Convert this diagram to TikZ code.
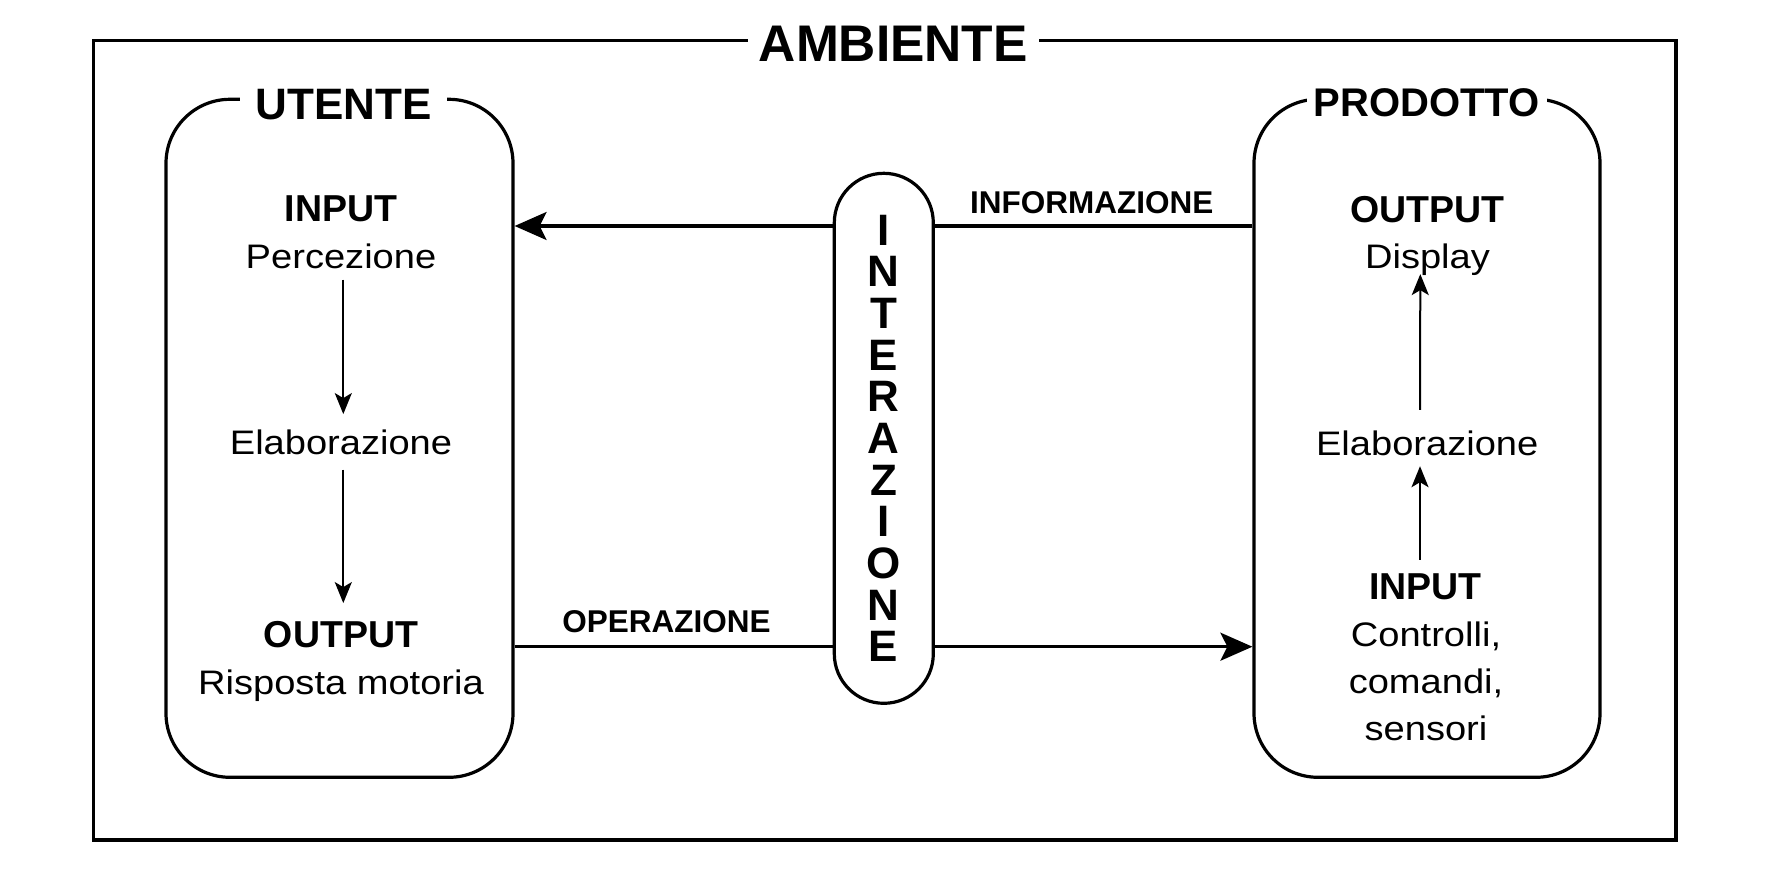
\documentclass[tikz,border=0pt]{standalone}
\usepackage{fontspec}
\setmainfont{Liberation Sans}
\usepackage{graphicx}
\usetikzlibrary{arrows.meta}
\newcommand{\stx}[1]{\scalebox{1.12}[1]{#1}}
\begin{document}
\begin{tikzpicture}[x=1pt,y=-1pt,
  mainline/.style={line width=3.2pt},
  frame/.style={draw, line width=3.2pt, inner sep=0pt},
  box/.style={draw, line width=3.2pt, rounded corners=64pt, minimum width=347pt, minimum height=678pt, inner sep=0pt},
  boxlabel/.style={fill=white, inner sep=0pt, anchor=base},
  reg/.style={font=\fontsize{34}{46.7}\selectfont, inner sep=0pt, text height=25pt, text depth=7pt, anchor=base},
  regm/.style={font=\fontsize{34}{46.7}\selectfont, inner sep=0pt, align=center, anchor=north},
  bld/.style={font=\fontsize{37.5}{45}\selectfont\bfseries, inner sep=0pt, text height=27pt, text depth=7pt, anchor=base},
  lbl/.style={font=\fontsize{31.5}{38}\selectfont\bfseries, inner sep=0pt, anchor=base},
  letter/.style={font=\fontsize{44}{50}\selectfont\bfseries, inner sep=0pt, anchor=base},
  bigarrow/.style={line width=3.2pt, -{Stealth[length=32pt, width=28pt, inset=7pt]}},
  smallarrow/.style={line width=2pt, -{Stealth[length=21pt, width=17pt, inset=5pt]}}
]
\useasboundingbox (0,0) rectangle (1772,881);

% outer frame
\node[frame, minimum width=1582.7pt, minimum height=799.3pt] (amb) at (884.65,440.35) {};
\node[boxlabel, minimum width=291.6pt, font=\fontsize{51.5}{60}\selectfont\bfseries] (ambt) at (893.3,61.7) {AMBIENTE};

% boxes
\node[box] (utente) at (339.5,438.3) {};
\node[boxlabel, minimum width=207pt, font=\fontsize{44}{52}\selectfont\bfseries] (utt) at (343.5,119) {UTENTE};
\node[box, minimum width=346pt] (prod) at (1427,438.3) {};
\node[boxlabel, minimum width=240pt, font=\fontsize{40}{48}\selectfont\bfseries] (prt) at (1426.5,116.7) {PRODOTTO};

% interazione pill
\node[draw, line width=3.2pt, rounded corners=49.5pt, minimum width=99pt, minimum height=530pt, inner sep=0pt] (pill) at (883.8,438.3) {};
\foreach \ch [count=\i from 0] in {I,N,T,E,R,A,Z,I,O,N,E}
  \node[letter] (L\i) at (883.5,245+41.67*\i) {\ch};

% left column
\node[bld] (uin) at (341,221.7) {INPUT};
\node[reg] (uperc) at (341,268.3) {\stx{Percezione}};
\node[reg] (uelab) at (341,454) {\stx{Elaborazione}};
\node[bld] (uout) at (341,647.3) {OUTPUT};
\node[reg] (uris) at (341,694) {\stx{Risposta motoria}};
\draw[smallarrow, shorten <=4pt, shorten >=14.7pt] ([xshift=2.3pt]uperc.south) -- ([xshift=2.3pt]uelab.north);
\draw[smallarrow, shorten <=8.3pt, shorten >=17pt] ([xshift=2.3pt]uelab.south) -- ([xshift=2.3pt]uout.north);

% right column
\node[bld] (pout) at (1427.5,222.3) {OUTPUT};
\node[reg] (pdisp) at (1427.5,268.3) {\stx{Display}};
\node[reg] (pelab) at (1427.2,455) {\stx{Elaborazione}};
\node[bld] (pin) at (1425.5,599) {INPUT};
\node[regm] (pctrl) at (1426,621.8) {\stx{Controlli,}\\\stx{comandi,}\\\stx{sensori}};
\draw[smallarrow, shorten <=20pt, shorten >=-1.4pt] ([xshift=-7.2pt]pelab.north) -- ([xshift=-7.2pt]pdisp.south);
\draw[smallarrow, shorten <=12pt, shorten >=4pt] ([xshift=-5.5pt]pin.north) -- ([xshift=-7.2pt]pelab.south);

% connectors
\coordinate (infoY) at (0,226);
\coordinate (operY) at (0,646.7);
\draw[bigarrow] (pill.west |- infoY) -- (utente.east |- infoY);
\draw[mainline] (prod.west |- infoY) -- (pill.east |- infoY);
\draw[mainline] (utente.east |- operY) -- (pill.west |- operY);
\draw[bigarrow] (pill.east |- operY) -- (prod.west |- operY);

\node[lbl] (info) at (1091.7,213.3) {INFORMAZIONE};
\node[lbl] (oper) at (666.5,632.3) {OPERAZIONE};
\end{tikzpicture}
\end{document}
